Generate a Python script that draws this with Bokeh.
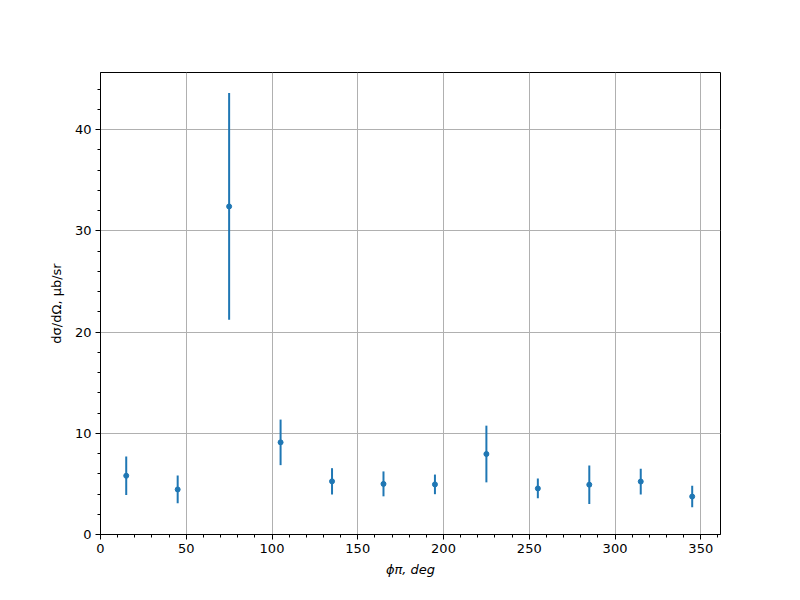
from bokeh.plotting import figure
from bokeh.models import ColumnDataSource, SingleIntervalTicker, Range1d
from bokeh.embed import file_html
from bokeh.resources import INLINE

phi = [15, 45, 75, 105, 135, 165, 195, 225, 255, 285, 315, 345]
xsec = [5.8, 4.45, 32.4, 9.1, 5.25, 5.0, 4.95, 7.95, 4.55, 4.92, 5.23, 3.75]
err = [1.9, 1.37, 11.2, 2.25, 1.3, 1.23, 0.97, 2.8, 0.97, 1.9, 1.27, 1.07]

lower = [v - e for v, e in zip(xsec, err)]
upper = [v + e for v, e in zip(xsec, err)]
src = ColumnDataSource(dict(x=phi, y=xsec, lo=lower, hi=upper))

BLUE = "#1f77b4"
FONT = "DejaVu Sans"

p = figure(width=800, height=600, output_backend="svg", toolbar_location=None,
           x_range=Range1d(0, 361.5), y_range=Range1d(0, 45.63),
           min_border_left=100, min_border_right=80, min_border_top=72, min_border_bottom=66)
p.outline_line_color = "black"
p.outline_line_width = 1
p.background_fill_color = "white"
p.border_fill_color = "white"

p.segment(x0="x", y0="lo", x1="x", y1="hi", source=src, line_color=BLUE, line_width=2)
p.scatter(x="x", y="y", source=src, size=5, fill_color=BLUE, line_color=BLUE)

p.xaxis.ticker = SingleIntervalTicker(interval=50, num_minor_ticks=5)
p.yaxis.ticker = SingleIntervalTicker(interval=10, num_minor_ticks=5)

for ax in (p.xaxis[0], p.yaxis[0]):
    ax.axis_line_color = "black"
    ax.axis_line_width = 1
    ax.major_tick_line_color = "black"
    ax.minor_tick_line_color = "black"
    ax.major_tick_in = 0
    ax.major_tick_out = 5
    ax.minor_tick_in = 0
    ax.minor_tick_out = 3
    ax.major_label_text_font = FONT
    ax.major_label_text_font_size = "13px"
    ax.major_label_text_color = "black"
    ax.axis_label_text_font = FONT
    ax.axis_label_text_font_size = "13px"
    ax.axis_label_text_color = "black"

p.xaxis.axis_label = "ϕπ, deg"
p.xaxis.axis_label_text_font_style = "italic"
p.xaxis.axis_label_standoff = 6
p.xaxis.major_label_standoff = 4
p.yaxis.axis_label = "dσ/dΩ, μb/sr"
p.yaxis.axis_label_text_font_style = "normal"
p.yaxis.axis_label_standoff = 8
p.yaxis.major_label_standoff = 4

p.xgrid.grid_line_color = "#b0b0b0"
p.ygrid.grid_line_color = "#b0b0b0"
p.xgrid.grid_line_width = 1
p.ygrid.grid_line_width = 1

open("out.html", "w").write(file_html(p, INLINE))
